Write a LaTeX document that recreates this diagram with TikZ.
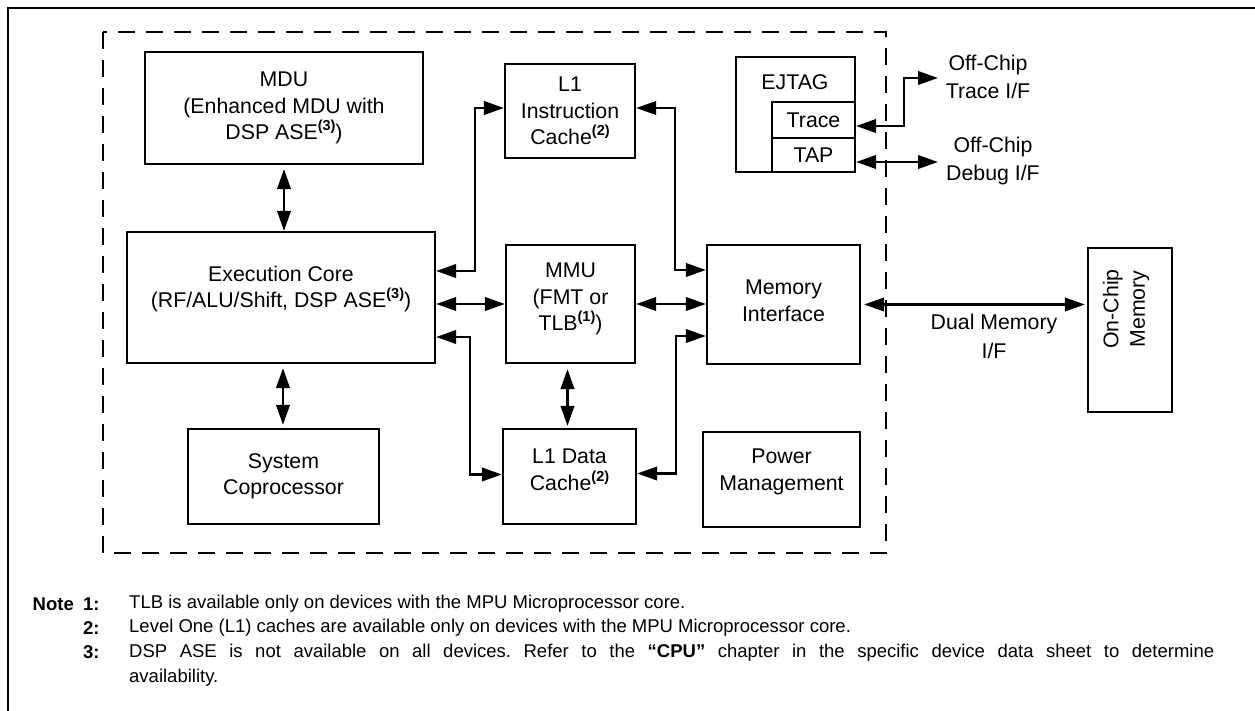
\documentclass[tikz,border=0pt]{standalone}
\usepackage{fontspec}
\setmainfont{Liberation Sans}
\usetikzlibrary{arrows.meta,calc}
\newcommand\supnote[1]{\raisebox{0.42em}{\fontsize{14.5}{14.5}\selectfont\bfseries #1}}
\frenchspacing
\begin{document}
\begin{tikzpicture}[x=1pt,y=-1pt,
  blk/.style={draw,line width=2.3pt,inner sep=0pt},
  txt/.style={align=center,inner sep=0pt,font=\fontsize{21.3}{26.5}\selectfont},
  note/.style={anchor=west,inner sep=0pt,font=\fontsize{18.5}{25}\selectfont},
  notelab/.style={inner sep=0pt,font=\fontsize{18.5}{25}\selectfont\bfseries},
  bi/.style={line width=2.3pt,{Triangle[length=20pt,width=13.5pt]}-{Triangle[length=20pt,width=13.5pt]}},
  frame/.style={line width=2.3pt},
  dashbox/.style={line width=2.3pt,dash pattern=on 17pt off 11pt}]
\useasboundingbox (0,0) rectangle (1255,711);
\clip (0,0) rectangle (1255,711);
% outer frame
\draw[frame] (8,730) -- (8,8) -- (1270,8);
% dashed core boundary
\draw[dashbox] (103,32) rectangle (886,553);
% blocks
\node[blk,minimum width=278,minimum height=112,txt] (mdu) at (284,108) {MDU\\(Enhanced MDU with\\DSP ASE\supnote{(3)})};
\node[blk,minimum width=308,minimum height=131] (exec) at (281,297.5) {};
\node[txt] (exect) at (281,289) {Execution Core\\(RF/ALU/Shift, DSP ASE\supnote{(3)})};
\node[blk,minimum width=191,minimum height=95,txt] (sysc) at (283.5,476.5) {System\\Coprocessor};
\node[blk,minimum width=130,minimum height=94,txt] (l1i) at (570,111) {L1\\Instruction\\Cache\supnote{(2)}};
\node[blk,minimum width=129,minimum height=118] (mmu) at (570.5,304) {};
\node[txt] (mmut) at (570.5,299) {MMU\\(FMT or\\TLB\supnote{(1)})};
\node[blk,minimum width=133,minimum height=95] (l1d) at (569.5,476.5) {};
\node[txt] (l1dt) at (569.5,470) {L1 Data\\Cache\supnote{(2)}};
\node[blk,minimum width=153,minimum height=119] (memif) at (783.5,304.5) {};
\node[txt] (memift) at (783.5,301) {Memory\\Interface};
\node[blk,minimum width=157,minimum height=95] (power) at (781.5,479.5) {};
\node[txt] (powert) at (781.5,472) {Power\\Management};
\node[blk,minimum width=119,minimum height=115] (ejtag) at (795.5,114.5) {};
\node[txt] (ejtagt) at (795,82) {EJTAG};
\node[blk,minimum width=83,minimum height=36,txt] (trace) at (813.5,120) {Trace};
\node[blk,minimum width=83,minimum height=34,txt] (tap) at (813.5,155) {TAP};
\node[blk,minimum width=84,minimum height=164] (ocm) at (1130,330) {};
\node[txt,rotate=90] (ocmt) at (1126,309) {On-Chip\\Memory};
% external labels
\node[txt,font=\fontsize{21.3}{28.5}\selectfont] (trlbl) at (988,77) {Off-Chip\\Trace I/F};
\node[txt,font=\fontsize{21.3}{28.5}\selectfont] (dblbl) at (993,161) {Off-Chip\\Debug I/F};
\node[txt,font=\fontsize{21.3}{29}\selectfont] (dual) at (994,336.5) {Dual Memory\\I/F};
\coordinate (trend) at (938,78);
\coordinate (dbend) at (938,162);
% connectors
\draw[bi,shorten <=4pt] (mdu.south) -- (mdu.south |- exec.north);
\draw[bi,shorten <=4pt,shorten >=3pt] ($(exec.south)+(2,0)$) -- ($(exec.south |- sysc.north)+(2,0)$);
\draw[bi] (mmu.west) -- (mmu.west -| exec.east);
\draw[bi] (mmu.east) -- (mmu.east -| memif.west);
\draw[bi,shorten <=5pt,shorten >=2pt] ($(mmu.south)+(-3,0)$) -- ($(mmu.south |- l1d.north)+(-3,0)$);
\draw[bi] ($(exec.east |- mmu.west)+(0,-33)$) -- ++(39,0) |- ($(l1i.west)+(0,-3)$);
\draw[bi] ($(exec.east |- mmu.west)+(0,33)$) -- ++(34,0) |- ($(l1d.west)+(0,-2)$);
\draw[bi] ($(l1i.east)+(0,-3)$) -- ++(39,0) |- ($(memif.west |- mmu.east)+(0,-34)$);
\draw[bi] ($(l1d.east)+(0,-3)$) -- ++(39,0) |- ($(memif.west |- mmu.east)+(0,32)$);
\draw[bi,shorten <=3pt,shorten >=2pt] (memif.east) -- (memif.east -| ocm.west);
\draw[bi] ($(trace.east)+(0,6)$) -- ++(48,0) |- (trend);
\draw[bi] ($(tap.east)+(0,7)$) -- (dbend);
% notes
\node[notelab,anchor=east] (nlab) at (74,604) {Note};
\node[notelab,anchor=west] (n1) at (83,604) {1:};
\node[notelab,anchor=west] (n2) at (83,628) {2:};
\node[notelab,anchor=west] (n3) at (83,652) {3:};
\node[note] (n1t) at (129,604) {TLB is available only on devices with the MPU Microprocessor core.};
\node[note] (n2t) at (129,628) {Level One (L1) caches are available only on devices with the MPU Microprocessor core.};
\node[note,anchor=north west,text width=1085pt,align=justify] (n3t) at (129,643.5) {DSP ASE is not available on all devices. Refer to the \textbf{“CPU”} chapter in the specific device data sheet to determine\linebreak availability.};
\end{tikzpicture}
\end{document}
